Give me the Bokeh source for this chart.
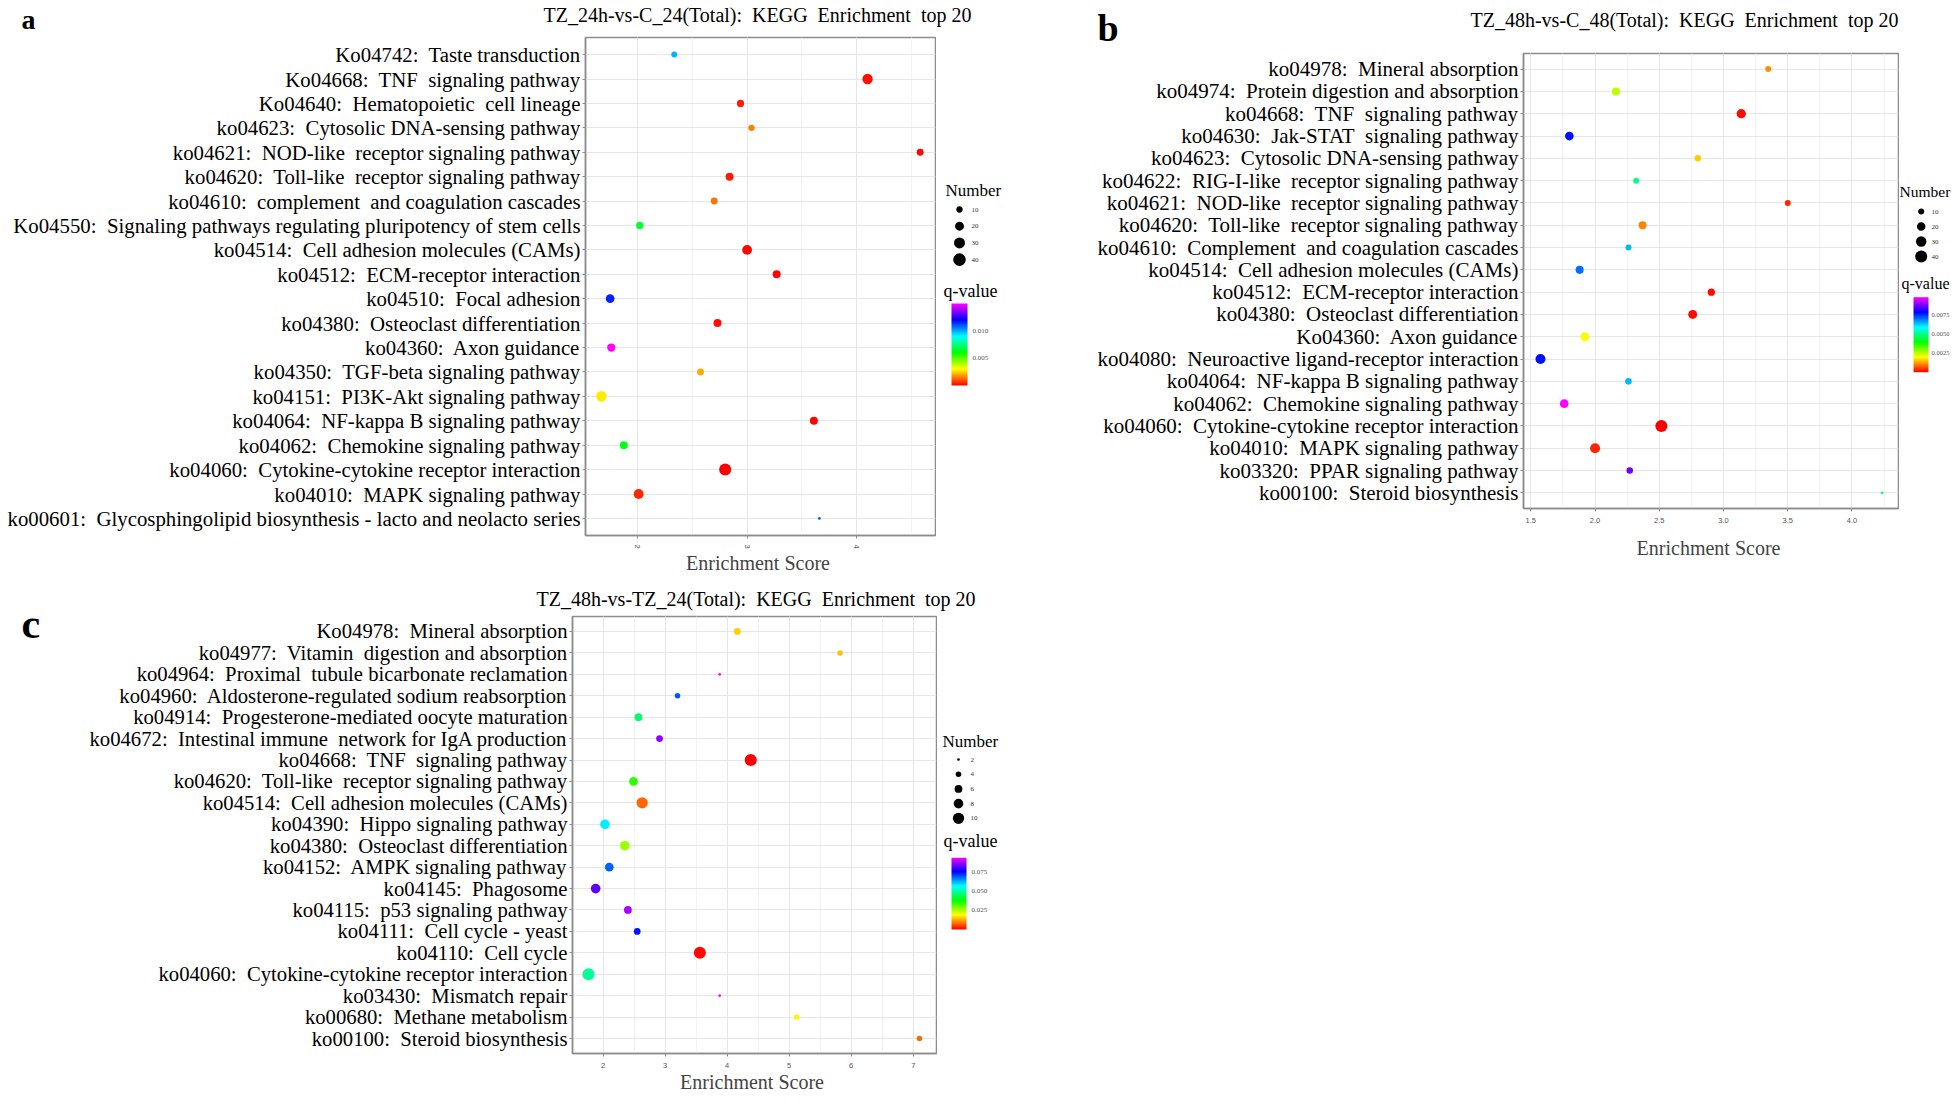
import colorsys
import numpy as np
from bokeh.plotting import figure
from bokeh.models import (FactorRange, Range1d, LinearColorMapper, SingleIntervalTicker,
                          ColumnDataSource, PrintfTickFormatter, BasicTickFormatter)
from bokeh.layouts import row, column
from bokeh.core.properties import value
from bokeh.embed import file_html
from bokeh.resources import INLINE

SERIF = "Liberation Serif"

# ---------------- Panel a data ----------------
a_title = "TZ_24h-vs-C_24(Total):  KEGG  Enrichment  top 20"
a_terms = [
    "Ko04742:  Taste transduction",
    "Ko04668:  TNF  signaling pathway",
    "Ko04640:  Hematopoietic  cell lineage",
    "ko04623:  Cytosolic DNA-sensing pathway",
    "ko04621:  NOD-like  receptor signaling pathway",
    "ko04620:  Toll-like  receptor signaling pathway",
    "ko04610:  complement  and coagulation cascades",
    "Ko04550:  Signaling pathways regulating pluripotency of stem cells",
    "ko04514:  Cell adhesion molecules (CAMs)",
    "ko04512:  ECM-receptor interaction",
    "ko04510:  Focal adhesion",
    "ko04380:  Osteoclast differentiation",
    "ko04360:  Axon guidance",
    "ko04350:  TGF-beta signaling pathway",
    "ko04151:  PI3K-Akt signaling pathway",
    "ko04064:  NF-kappa B signaling pathway",
    "ko04062:  Chemokine signaling pathway",
    "ko04060:  Cytokine-cytokine receptor interaction",
    "ko04010:  MAPK signaling pathway",
    "ko00601:  Glycosphingolipid biosynthesis - lacto and neolacto series",
]
a_score = [2.335, 4.10, 2.94, 3.04, 4.58, 2.84, 2.70, 2.02, 3.00, 3.27,
           1.75, 2.73, 1.76, 2.575, 1.67, 3.61, 1.875, 2.80, 2.01, 3.66]
a_number = [9, 27, 13, 10, 12, 16, 12, 13, 24, 16,
            19, 16, 17, 12, 28, 16, 16, 36, 25, 2]
a_qvalue = [0.0099, 0.0002, 0.0004, 0.0015, 0.0001, 0.0003, 0.0014, 0.0066, 0.0001, 0.0001,
            0.0116, 0.0002, 0.0150, 0.0020, 0.0028, 0.0001, 0.0063, 0.0000, 0.0005, 0.0109]
a_legend_numbers = [10, 20, 30, 40]
a_cbar_ticks = [0.005, 0.010]
a_cbar_labels = ["0.005", "0.010"]

# ---------------- Panel b data ----------------
b_title = "TZ_48h-vs-C_48(Total):  KEGG  Enrichment  top 20"
b_terms = [
    "ko04978:  Mineral absorption",
    "ko04974:  Protein digestion and absorption",
    "ko04668:  TNF  signaling pathway",
    "ko04630:  Jak-STAT  signaling pathway",
    "ko04623:  Cytosolic DNA-sensing pathway",
    "ko04622:  RIG-I-like  receptor signaling pathway",
    "ko04621:  NOD-like  receptor signaling pathway",
    "ko04620:  Toll-like  receptor signaling pathway",
    "ko04610:  Complement  and coagulation cascades",
    "ko04514:  Cell adhesion molecules (CAMs)",
    "ko04512:  ECM-receptor interaction",
    "ko04380:  Osteoclast differentiation",
    "Ko04360:  Axon guidance",
    "ko04080:  Neuroactive ligand-receptor interaction",
    "ko04064:  NF-kappa B signaling pathway",
    "ko04062:  Chemokine signaling pathway",
    "ko04060:  Cytokine-cytokine receptor interaction",
    "ko04010:  MAPK signaling pathway",
    "ko03320:  PPAR signaling pathway",
    "ko00100:  Steroid biosynthesis",
]
b_score = [3.348, 2.163, 3.138, 1.80, 2.80, 2.32, 3.50, 2.37, 2.26, 1.88,
           2.905, 2.76, 1.92, 1.575, 2.26, 1.76, 2.516, 2.00, 2.27, 4.235]
b_number = [10, 18, 24, 21, 12, 10, 10, 18, 10, 18,
            15, 22, 22, 28, 12, 21, 40, 28, 12, 2]
b_qvalue = [0.00114, 0.00245, 0.0001, 0.0077, 0.0016, 0.0049, 0.0003, 0.0010, 0.0064, 0.0070,
            0.0001, 0.0001, 0.0020, 0.0077, 0.0064, 0.0098, 0.0000, 0.0003, 0.0087, 0.0049]
b_legend_numbers = [10, 20, 30, 40]
b_cbar_ticks = [0.0025, 0.0050, 0.0075]
b_cbar_labels = ["0.0025", "0.0050", "0.0075"]

# ---------------- Panel c data ----------------
c_title = "TZ_48h-vs-TZ_24(Total):  KEGG  Enrichment  top 20"
c_terms = [
    "Ko04978:  Mineral absorption",
    "ko04977:  Vitamin  digestion and absorption",
    "ko04964:  Proximal  tubule bicarbonate reclamation",
    "ko04960:  Aldosterone-regulated sodium reabsorption",
    "ko04914:  Progesterone-mediated oocyte maturation",
    "ko04672:  Intestinal immune  network for IgA production",
    "ko04668:  TNF  signaling pathway",
    "ko04620:  Toll-like  receptor signaling pathway",
    "ko04514:  Cell adhesion molecules (CAMs)",
    "ko04390:  Hippo signaling pathway",
    "ko04380:  Osteoclast differentiation",
    "ko04152:  AMPK signaling pathway",
    "ko04145:  Phagosome",
    "ko04115:  p53 signaling pathway",
    "ko04111:  Cell cycle - yeast",
    "ko04110:  Cell cycle",
    "ko04060:  Cytokine-cytokine receptor interaction",
    "ko03430:  Mismatch repair",
    "ko00680:  Methane metabolism",
    "ko00100:  Steroid biosynthesis",
]
c_score = [4.164, 5.82, 3.88, 3.20, 2.57, 2.91, 4.38, 2.49, 2.63, 2.03,
           2.35, 2.10, 1.88, 2.40, 2.55, 3.56, 1.765, 3.88, 5.12, 7.10]
c_number = [5, 4, 2, 4, 6, 5, 11, 7, 10, 8,
            8, 7, 8, 6, 5, 11, 11, 2, 4, 4]
c_qvalue = [0.0149, 0.0140, 0.093, 0.068, 0.045, 0.085, 0.0, 0.034, 0.0078, 0.057,
            0.026, 0.067, 0.081, 0.087, 0.073, 0.001, 0.048, 0.093, 0.018, 0.0078]
c_legend_numbers = [2, 4, 6, 8, 10]
c_cbar_ticks = [0.025, 0.050, 0.075]
c_cbar_labels = ["0.025", "0.050", "0.075"]


# ---------------- styling helpers ----------------
def rainbow(n=256):
    cols = []
    for i in range(n):
        h = (300.0 / 360.0) * i / (n - 1)
        r, g, b = colorsys.hsv_to_rgb(h, 1, 1)
        cols.append("#%02x%02x%02x" % (round(r * 255), round(g * 255), round(b * 255)))
    return cols


PAL = rainbow()


def keep_spaces(s):
    # SVG collapses runs of spaces; keep the wide gaps of the original labels
    return s.replace("  ", "\u00a0 ")


def size_of(n, d0, k):
    return list(d0 + k * np.sqrt(np.asarray(n, dtype=float)))


def blank_fig(W, H):
    p = figure(width=W, height=H, x_range=Range1d(0, W), y_range=Range1d(0, H),
               x_axis_type=None, y_axis_type=None, output_backend="svg",
               toolbar_location=None, min_border=0)
    p.outline_line_color = None
    p.background_fill_color = "white"
    p.border_fill_color = "white"
    return p


def add_text(p, H, x, y, txt, size, bold=False):
    p.text(x=[x], y=[H - y], text=[txt], text_font=value(SERIF),
           text_font_size=value(size), text_font_style="bold" if bold else "normal",
           text_align="left", text_baseline="middle", text_color="black")


def header_fig(W, H, title, tx, ty, letter=None, lx=0, ly=0, lsize="38px"):
    p = blank_fig(W, H)
    add_text(p, H, tx, ty, keep_spaces(title), "20px")
    if letter:
        add_text(p, H, lx, ly, letter, lsize, bold=True)
    return p


def letter_fig(W, H, letter, lx, ly):
    p = blank_fig(W, H)
    add_text(p, H, lx, ly, letter, "42px", bold=True)
    return p


def main_panel(terms, score, number, q, xr, interval, sz, W, H, bl, bb,
               lab_px, xl_stand, orient, fmt):
    mapper = LinearColorMapper(palette=PAL, low=min(q), high=max(q))
    labels = [keep_spaces(t) for t in terms]
    src = ColumnDataSource(dict(term=labels, score=score, number=number, q=q,
                                size=size_of(number, *sz)))
    p = figure(width=W, height=H, x_range=Range1d(*xr),
               y_range=FactorRange(factors=list(reversed(labels)), range_padding=0.2,
                                   range_padding_units="absolute"),
               output_backend="svg", toolbar_location=None,
               min_border_left=bl, min_border_right=1, min_border_top=1, min_border_bottom=bb)
    p.scatter(x="score", y="term", size="size", source=src,
              fill_color={"field": "q", "transform": mapper}, line_color=None)
    p.background_fill_color = "white"
    p.border_fill_color = "white"
    p.outline_line_color = "#8c8c8c"
    p.outline_line_width = 1.5
    p.xaxis.ticker = SingleIntervalTicker(interval=interval, num_minor_ticks=2)
    p.xaxis.formatter = fmt
    p.xgrid.grid_line_color = "#e6e6e6"
    p.xgrid.minor_grid_line_color = "#f3f3f3"
    p.ygrid.grid_line_color = "#e6e6e6"
    for ax in (p.xaxis[0], p.yaxis[0]):
        ax.axis_line_color = "#8c8c8c"
        ax.axis_line_width = 1.5
        ax.major_tick_line_color = "#8c8c8c"
        ax.major_tick_out = 3
        ax.major_tick_in = 0
        ax.minor_tick_line_color = None
    p.yaxis.major_label_text_font = SERIF
    p.yaxis.major_label_text_font_size = lab_px
    p.yaxis.major_label_text_color = "black"
    p.yaxis.major_label_standoff = 2
    p.xaxis.major_label_text_font_size = "7.5px"
    p.xaxis.major_label_text_color = "#555555"
    p.xaxis.major_label_orientation = orient
    p.xaxis.axis_label = "Enrichment  Score"
    p.xaxis.axis_label_text_font = SERIF
    p.xaxis.axis_label_text_font_size = "20px"
    p.xaxis.axis_label_text_font_style = "normal"
    p.xaxis.axis_label_standoff = xl_stand
    return p, mapper


def legend_fig(W, H, ox, oy, nums, sz, mapper, q, ticks, tick_labels, spec):
    p = blank_fig(W, H)

    def X(px):
        return px - ox

    def Y(py):
        return H - (py - oy)

    # size legend
    p.text(x=[X(spec["num_title"][0])], y=[Y(spec["num_title"][1])], text=["Number"],
           text_font=value(SERIF), text_font_size=value(spec["num_fs"]),
           text_align="left", text_baseline="middle", text_color="black")
    ys = [Y(spec["dot_y0"] + i * spec["dot_dy"]) for i in range(len(nums))]
    p.scatter(x=[X(spec["dot_x"])] * len(nums), y=ys, size=size_of(nums, *sz),
              fill_color="black", line_color=None)
    p.text(x=[X(spec["lab_x"])] * len(nums), y=ys, text=[str(n) for n in nums],
           text_font=value(SERIF), text_font_size=value("7px"),
           text_align="left", text_baseline="middle", text_color="#333333")
    # colour legend
    p.text(x=[X(spec["q_title"][0])], y=[Y(spec["q_title"][1])], text=["q-value"],
           text_font=value(SERIF), text_font_size=value(spec["q_fs"]),
           text_align="left", text_baseline="middle", text_color="black")
    lo, hi = min(q), max(q)
    bx0, bx1, by0, by1 = spec["bar"]
    p.image(image=[np.linspace(lo, hi, 256).reshape(-1, 1)], x=X(bx0), y=Y(by1),
            dw=bx1 - bx0, dh=by1 - by0, color_mapper=mapper)
    ty = [Y(by1) + (t - lo) / (hi - lo) * (by1 - by0) for t in ticks]
    p.text(x=[X(spec["tick_x"])] * len(ticks), y=ty, text=tick_labels,
           text_font=value(SERIF), text_font_size=value(spec["tick_fs"]),
           text_align="left", text_baseline="middle", text_color="#555555")
    return p


H1 = 582
H2 = 534

# ---- row 1 : panel a (x 0..936) + legend (936..1085), panel b (x 1085..1899) + legend
hA = 36
pa, ma = main_panel(a_terms, a_score, a_number, a_qvalue, (1.525, 4.72), 1, (0.0, 2.0),
                    936, H1 - hA, 585, 47, "20.8px", 0, "vertical", BasicTickFormatter())
hdr_a = header_fig(1085, hA, a_title, 543, 14, "a", 21, 19, "28px")
la = legend_fig(149, H1 - hA, 936, hA, a_legend_numbers, (0.0, 2.0), ma, a_qvalue,
                a_cbar_ticks, a_cbar_labels,
                dict(num_title=(945, 190), num_fs="17px", dot_x=959, dot_y0=209, dot_dy=16.7,
                     lab_x=971, q_title=(943, 290), q_fs="18px", bar=(951, 967, 303, 385),
                     tick_x=972, tick_fs="7px"))

hB = 52
pb, mb = main_panel(b_terms, b_score, b_number, b_qvalue, (1.443, 4.362), 0.5, (0.0, 1.9),
                    814, H1 - hB, 438, 74, "21px", 11, "horizontal",
                    PrintfTickFormatter(format="%.1f"))
hdr_b = header_fig(814, hB, b_title, 1470 - 1085, 19.7, "b", 1097 - 1085, 27, "38px")
lb = legend_fig(58, H1, 1899, 0, b_legend_numbers, (0.0, 1.9), mb, b_qvalue,
                b_cbar_ticks, b_cbar_labels,
                dict(num_title=(1899, 191), num_fs="15.5px", dot_x=1920.7, dot_y0=211, dot_dy=15,
                     lab_x=1931, q_title=(1901, 283), q_fs="16px", bar=(1913, 1928, 296.7, 371.7),
                     tick_x=1931, tick_fs="6.5px"))

# ---- row 2 : panel c (x 48..937) + legend (937..1085), page y 582..1116
hC = 33
pc, mc = main_panel(c_terms, c_score, c_number, c_qvalue, (1.507, 7.375), 1, (-4.26, 4.92),
                    889, H2 - hC, 524, 63, "20.7px", 0, "horizontal", BasicTickFormatter())
hdr_c = header_fig(1037, hC, c_title, 536 - 48, 598 - 582)
ltc = letter_fig(48, H2, "c", 21, 623 - 582)
lc = legend_fig(148, H2 - hC, 937, 582 + hC, c_legend_numbers, (-4.26, 4.92), mc, c_qvalue,
                c_cbar_ticks, c_cbar_labels,
                dict(num_title=(942, 741), num_fs="17px", dot_x=958, dot_y0=759, dot_dy=14.7,
                     lab_x=970, q_title=(943, 840), q_fs="18px", bar=(951, 966, 857.3, 929),
                     tick_x=971, tick_fs="7px"))

block_a = column(row(hdr_a), row(column(pa), column(la)))
block_b = column(row(hdr_b), row(pb))
block_c = column(row(hdr_c), row(column(pc), column(lc)))

row1 = row(block_a, block_b, column(lb))
row2 = row(column(ltc), block_c)
layout = column(row1, row2)

open("out.html", "w").write(file_html(layout, INLINE))
